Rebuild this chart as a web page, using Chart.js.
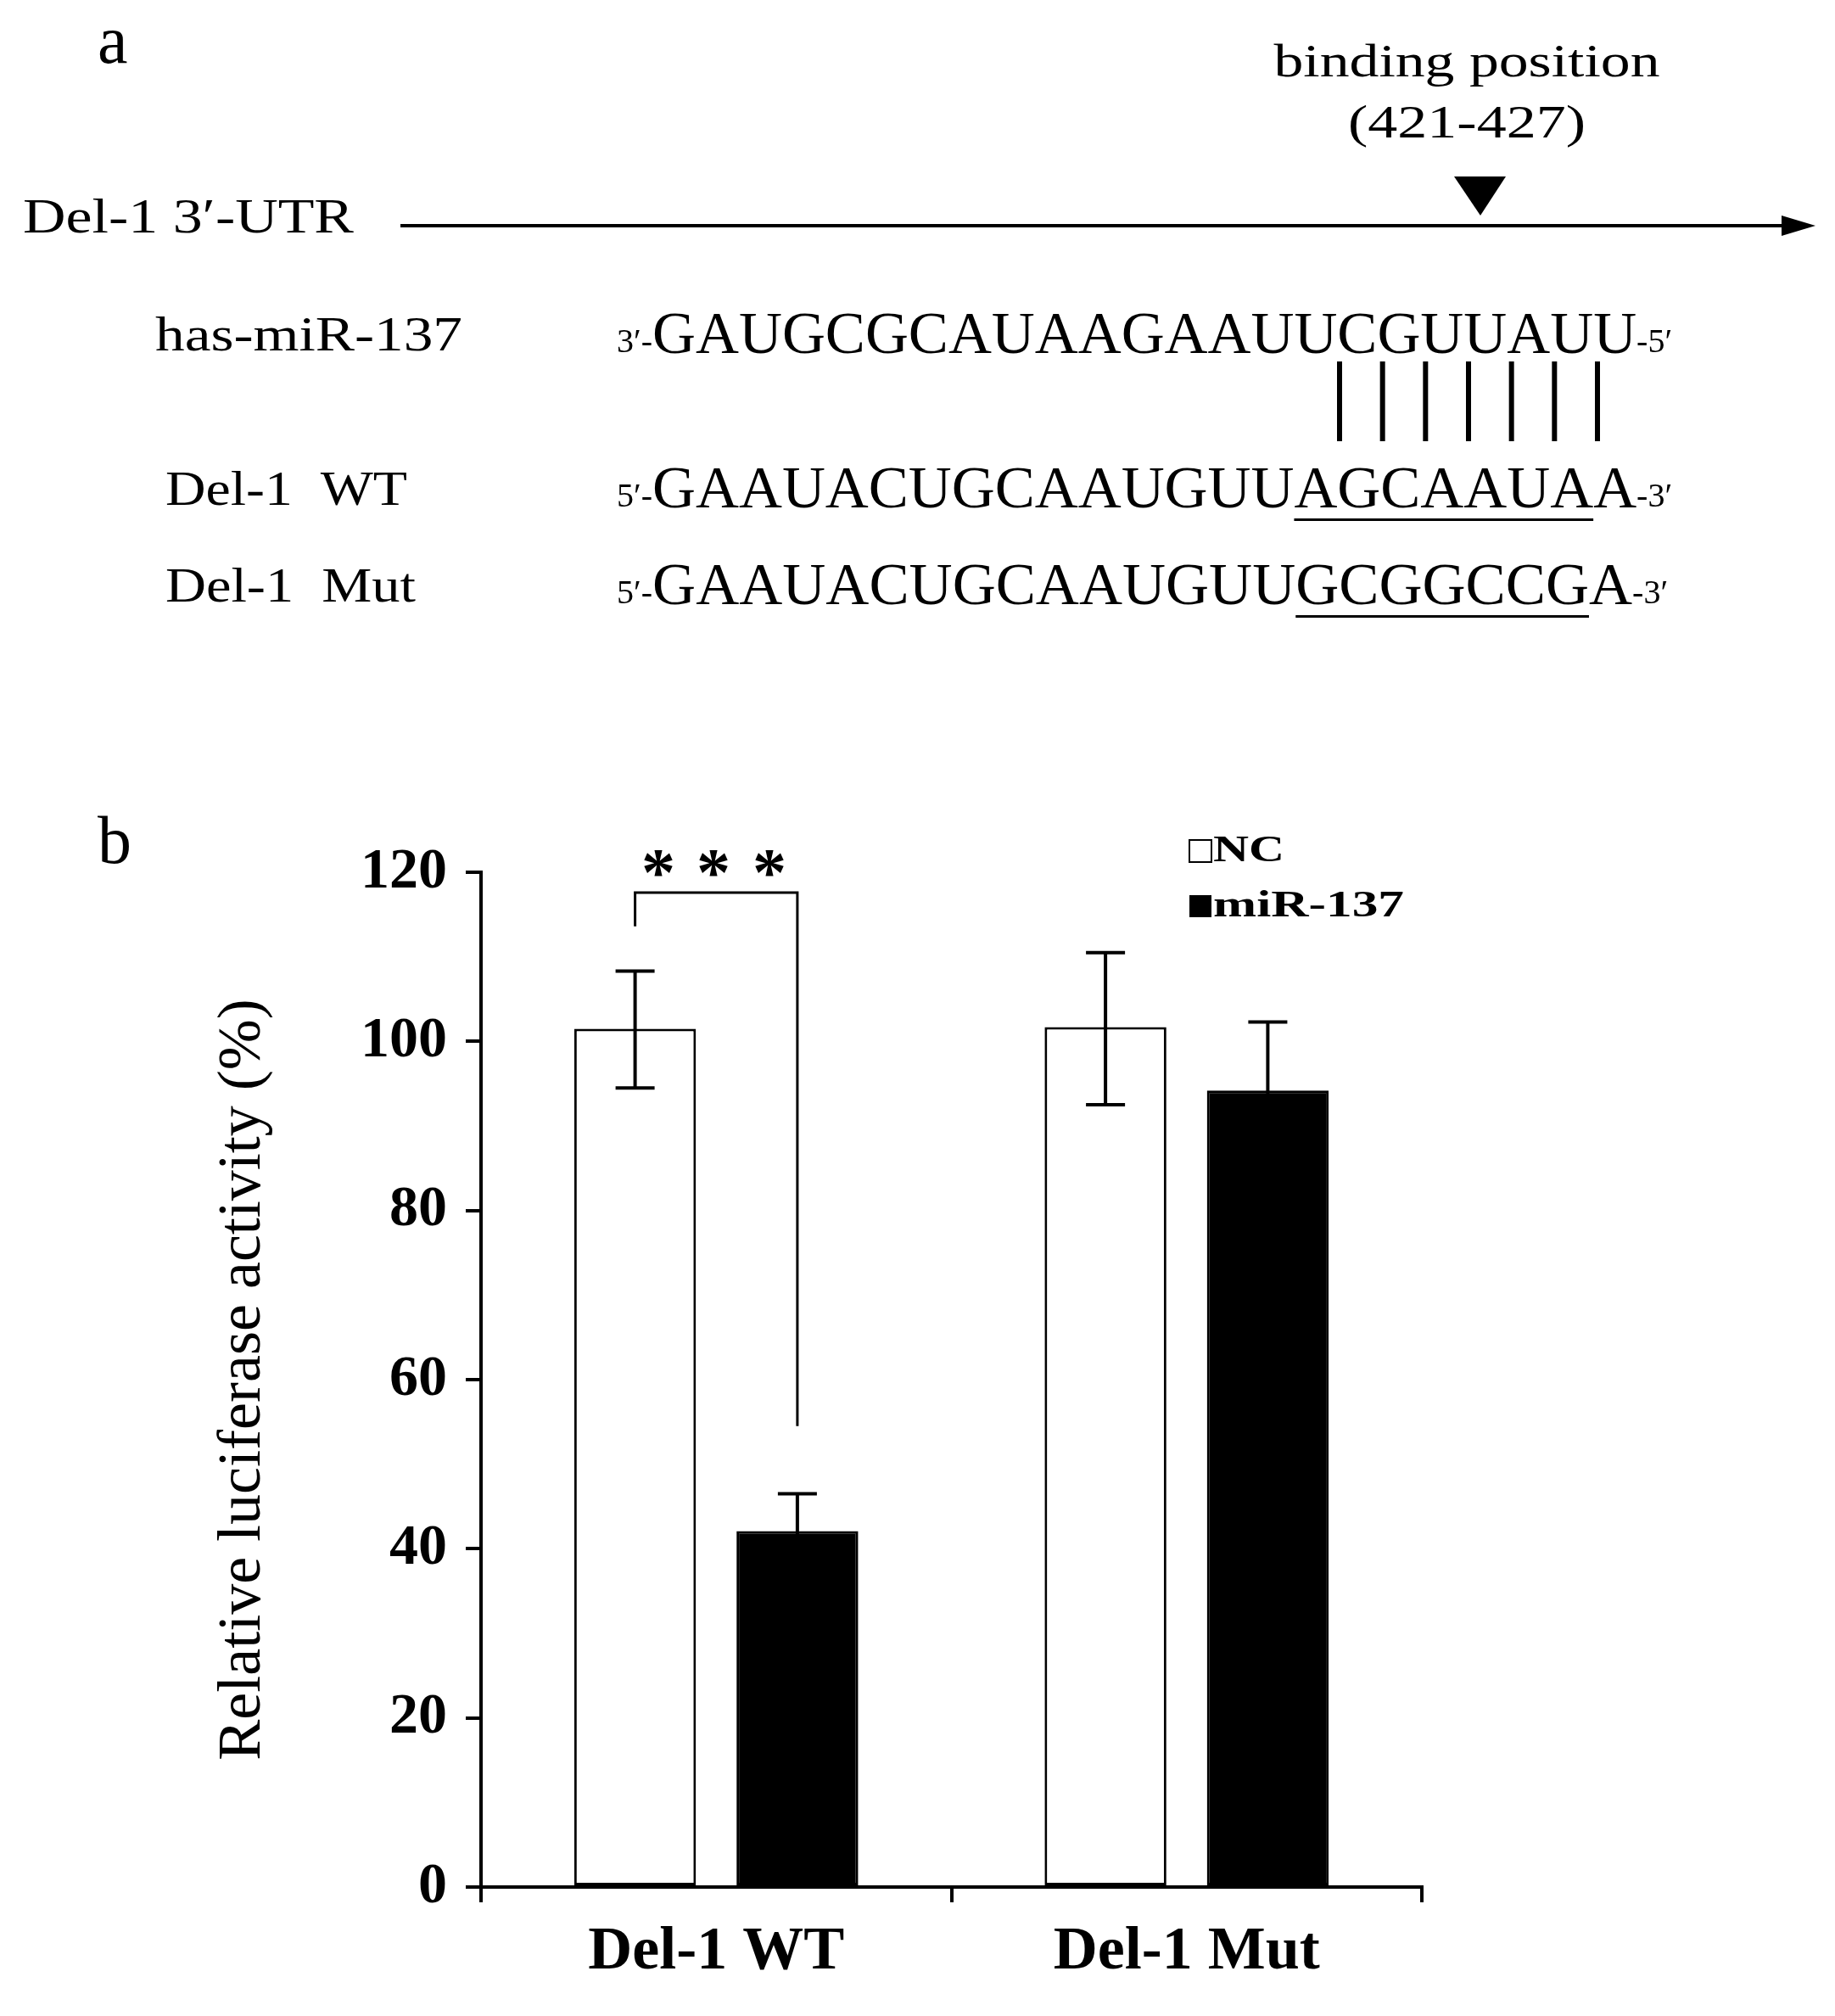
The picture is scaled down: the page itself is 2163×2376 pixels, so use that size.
<!DOCTYPE html>
<html><head><meta charset="utf-8">
<script src="https://cdn.jsdelivr.net/npm/chart.js@4"></script>
<style>html,body{margin:0;padding:0;background:#fff}#c{display:block}</style>
</head><body>
<div style="width:2163px;height:2376px"><canvas id="c"></canvas></div>
<script>
const categories = ["Del-1 WT", "Del-1 Mut"];
const seriesNames = ["NC", "miR-137"];
const ncValues = [101.5, 101.7];
const ncErrLow = [94.5, 92.5];
const ncErrHigh = [108.3, 110.5];
const mirValues = [42.1, 94.2];
const mirErrLow = [37.5, 86.5];
const mirErrHigh = [46.5, 102.3];
const yTicks = [0, 20, 40, 60, 80, 100, 120];
const bracket = {left: 113.6, top: 117.6, right: 54.5, stars: "* * *"};

const SERIF = '"Liberation Serif","DejaVu Serif",serif';
function fitText(ctx, text, x, y, size, w, bold, align){
  ctx.save();
  ctx.font = (bold?'bold ':'') + size + 'px ' + SERIF;
  const m = ctx.measureText(text).width;
  const sx = w ? w/m : 1;
  ctx.textBaseline = 'middle';
  ctx.textAlign = 'left';
  let x0 = x;
  if (align === 'center') x0 = x - m*sx/2;
  ctx.translate(x0, y); ctx.scale(sx, 1);
  ctx.fillText(text, 0, 0);
  ctx.restore();
  return m*sx;
}
function seq(ctx, pre, main, suf, x, y, totalMainW, ulStart, ulLen){
  ctx.save(); ctx.fillStyle='#000';
  const w1 = fitText(ctx, pre, x, y+6, 40, 0);
  ctx.font = '70px ' + SERIF;
  const m = ctx.measureText(main).width;
  const sx = totalMainW/m;
  const mx = x + w1;
  fitText(ctx, main, mx, y, 70, totalMainW);
  fitText(ctx, suf, mx+totalMainW, y+6, 40, 0);
  if (ulLen){
    const a = ctx.measureText(main.slice(0, ulStart)).width*sx;
    const b = ctx.measureText(main.slice(0, ulStart+ulLen)).width*sx;
    ctx.fillRect(mx+a, y+31, b-a, 3);
  }
  ctx.restore();
}

const overlay = {
  id: 'overlay',
  afterDatasetsDraw(chart){
    const ctx = chart.ctx, y = chart.scales.y;
    ctx.save();
    ctx.strokeStyle = '#000'; ctx.fillStyle = '#000'; ctx.lineWidth = 4;
    const sets = [[ncErrLow, ncErrHigh],[mirErrLow, mirErrHigh]];
    sets.forEach((s, di) => {
      const meta = chart.getDatasetMeta(di);
      meta.data.forEach((bar, i) => {
        const cx = bar.x, cap = 23;
        const yl = y.getPixelForValue(s[0][i]), yh = y.getPixelForValue(s[1][i]);
        ctx.beginPath();
        ctx.moveTo(cx, yl); ctx.lineTo(cx, yh);
        ctx.moveTo(cx-cap, yh); ctx.lineTo(cx+cap, yh);
        ctx.moveTo(cx-cap, yl); ctx.lineTo(cx+cap, yl);
        ctx.stroke();
      });
    });
    const b0 = chart.getDatasetMeta(0).data[0].x, b1 = chart.getDatasetMeta(1).data[0].x;
    ctx.lineWidth = 3;
    ctx.beginPath();
    ctx.moveTo(b0, y.getPixelForValue(bracket.left));
    ctx.lineTo(b0, y.getPixelForValue(bracket.top));
    ctx.lineTo(b1, y.getPixelForValue(bracket.top));
    ctx.lineTo(b1, y.getPixelForValue(bracket.right));
    ctx.stroke();
    ctx.font = 'bold 80px ' + SERIF; ctx.textAlign='center'; ctx.textBaseline='middle';
    [776, 841, 907].forEach(px => ctx.fillText('*', px, y.getPixelForValue(bracket.top)-18));
    ctx.lineWidth = 2;
    ctx.strokeRect(1402, 990, 26, 26);
    ctx.fillRect(1402, 1055, 26, 26);
    fitText(ctx, seriesNames[0], 1430, 1004, 44, 84, true);
    fitText(ctx, seriesNames[1], 1430, 1069, 44, 225, true);
    ctx.restore();

    ctx.save(); ctx.fillStyle='#000'; ctx.strokeStyle='#000';
    fitText(ctx, 'a', 115, 53, 80, 0);
    fitText(ctx, 'b', 115, 996, 80, 0);
    fitText(ctx, 'binding position', 1729, 76, 54, 455, false, 'center');
    fitText(ctx, '(421-427)', 1729, 148, 54, 280, false, 'center');
    ctx.beginPath(); ctx.moveTo(1714, 208); ctx.lineTo(1775, 208); ctx.lineTo(1745, 254); ctx.closePath(); ctx.fill();
    ctx.lineWidth = 4;
    ctx.beginPath(); ctx.moveTo(472, 266); ctx.lineTo(2110, 266); ctx.stroke();
    ctx.beginPath(); ctx.moveTo(2140, 266); ctx.lineTo(2100, 254); ctx.lineTo(2100, 278); ctx.closePath(); ctx.fill();
    fitText(ctx, 'Del-1 3\u2032-UTR', 27, 259, 56, 390);
    fitText(ctx, 'has-miR-137', 183, 398, 56, 362);
    fitText(ctx, 'Del-1  WT', 195, 580, 56, 285);
    fitText(ctx, 'Del-1  Mut', 195, 694, 56, 295);
    seq(ctx, '3\u2032-', 'GAUGCGCAUAAGAAUUCGUUAUU', '-5\u2032', 727, 398, 1160, 0, 0);
    seq(ctx, '5\u2032-', 'GAAUACUGCAAUGUUAGCAAUAA', '-3\u2032', 727, 580, 1160, 15, 7);
    seq(ctx, '5\u2032-', 'GAAUACUGCAAUGUUGCGGCCGA', '-3\u2032', 727, 694, 1155, 15, 7);
    ctx.lineWidth = 6;
    for (let i = 0; i < 7; i++){
      const px = 1579 + i*(1883-1579)/6;
      ctx.beginPath(); ctx.moveTo(px, 426); ctx.lineTo(px, 520); ctx.stroke();
    }
    ctx.restore();
  }
};

new Chart(document.getElementById('c'), {
  type: 'bar',
  data: {
    labels: categories,
    datasets: [
      {label: seriesNames[0], data: ncValues, backgroundColor: '#fff', borderColor: '#000', borderWidth: 3, borderSkipped: false},
      {label: seriesNames[1], data: mirValues, backgroundColor: '#000', borderColor: '#000', borderWidth: 3, borderSkipped: false}
    ]
  },
  options: {
    responsive: true, maintainAspectRatio: false, animation: false,
    devicePixelRatio: 1,
    layout: {padding: {left: 240, right: 487, top: 1028, bottom: 0}},
    plugins: {legend: {display: false}, tooltip: {enabled: false}},
    datasets: {bar: {categoryPercentage: 0.69, barPercentage: 0.75}},
    scales: {
      x: {
        grid: {display: true, drawOnChartArea: false, offset: true, color: '#000', lineWidth: 4, tickLength: 18},
        border: {color: '#000', width: 4},
        ticks: {color: '#000', font: {family: SERIF, size: 72, weight: 'bold'}, padding: 16},
        afterFit(s){ s.height = 152; }
      },
      y: {
        min: 0, max: 120,
        afterBuildTicks(s){ s.ticks = yTicks.map(v => ({value: v})); },
        grid: {drawOnChartArea: false, color: '#000', lineWidth: 4, tickLength: 18},
        border: {color: '#000', width: 4},
        ticks: {color: '#000', font: {family: SERIF, size: 68, weight: 'bold'}, padding: 22},
        title: {display: true, text: 'Relative luciferase activity (%)', color: '#000', font: {family: SERIF, size: 72}, padding: {bottom: 10}},
        afterFit(s){ s.width = 327; }
      }
    }
  },
  plugins: [overlay]
});
</script>
</body></html>
